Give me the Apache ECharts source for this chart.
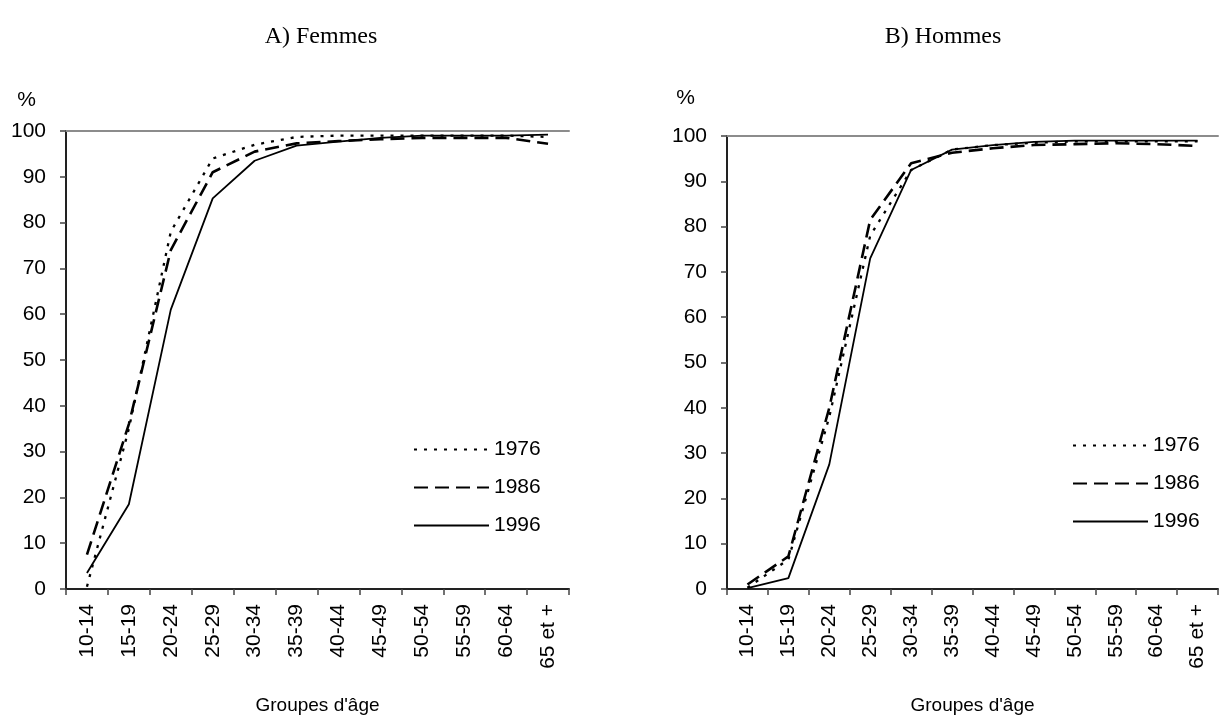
<!DOCTYPE html>
<html>
<head>
<meta charset="utf-8">
<script src="https://cdn.jsdelivr.net/npm/echarts@6/dist/echarts.min.js"></script>
<style>html,body{margin:0;padding:0;background:#fff;}#c{width:1219px;height:720px;}</style>
</head>
<body>
<div id="c"></div>
<script>
const categories = ['10-14','15-19','20-24','25-29','30-34','35-39','40-44','45-49','50-54','55-59','60-64','65 et +'];
const yTicks = [0,10,20,30,40,50,60,70,80,90,100];
const years = ['1976','1986','1996'];
// A) Femmes
const femmes1976 = [0.5, 35, 78, 94, 97, 98.7, 99, 99, 99, 99, 99, 98.7];
const femmes1986 = [7.5, 36, 74, 91, 95.5, 97.3, 97.8, 98.2, 98.5, 98.5, 98.5, 97.2];
const femmes1996 = [3.5, 18.5, 61, 85.3, 93.5, 96.8, 97.7, 98.5, 99, 99, 99, 99.2];
// B) Hommes
const hommes1976 = [0.3, 6.5, 38, 78, 92.5, 97, 98, 98.5, 98.8, 98.8, 98.8, 98.8];
const hommes1986 = [1, 7.2, 40, 81.5, 94, 96.3, 97.3, 98, 98.2, 98.4, 98.2, 97.8];
const hommes1996 = [0.2, 2.4, 27.5, 73, 92.5, 97, 98, 98.7, 99, 99, 99, 99];

const sans = 'Liberation Sans, Arial, sans-serif';
const serif = 'Liberation Serif, Times New Roman, serif';
const styles = [
  {type: [3, 7], width: 2.3},
  {type: [14, 7], width: 2.6},
  {type: 'solid', width: 1.8}
];

function xBottom(gi) {
  return {
    type: 'category', gridIndex: gi, data: categories, position: 'bottom', boundaryGap: true,
    axisLine: {lineStyle: {color: '#222', width: 2}},
    axisTick: {show: true, length: 6, lineStyle: {color: '#444', width: 1.5}},
    axisLabel: {rotate: 90, fontSize: 21, color: '#000', fontFamily: sans, margin: 15},
    name: "Groupes d'âge", nameLocation: 'middle', nameGap: 107,
    nameTextStyle: {fontSize: 19, color: '#000', fontFamily: sans},
    splitLine: {show: false}
  };
}
function xTop(gi) {
  return {
    type: 'category', gridIndex: gi, data: categories, position: 'top',
    axisLine: {lineStyle: {color: '#8c8c8c', width: 2}},
    axisTick: {show: false}, axisLabel: {show: false}, splitLine: {show: false}
  };
}
function yAx(gi, pad, gap) {
  return {
    type: 'value', gridIndex: gi, min: yTicks[0], max: yTicks[yTicks.length-1], interval: 10,
    axisLine: {show: true, lineStyle: {color: '#222', width: 2}},
    axisTick: {show: true, inside: false, length: 6, lineStyle: {color: '#444', width: 1.5}},
    axisLabel: {fontSize: 21, color: '#000', fontFamily: sans, margin: 20},
    splitLine: {show: false},
    name: '%', nameLocation: 'end', nameGap: gap,
    nameTextStyle: {fontSize: 21, color: '#000', fontFamily: sans, align: 'right', padding: [0, pad, 0, 0]}
  };
}
function mk(name, data, gi, i) {
  return {
    name: name, type: 'line', xAxisIndex: gi, yAxisIndex: gi, data: data,
    symbol: 'none', showSymbol: false, smooth: false,
    lineStyle: {color: '#000', width: styles[i].width, type: styles[i].type},
    itemStyle: {color: '#000'}, silent: true
  };
}
function legend(left, top) {
  return {
    orient: 'vertical', left: left, top: top, itemWidth: 75, itemHeight: 20, itemGap: 17,
    itemStyle: {opacity: 0},
    textStyle: {fontSize: 21, color: '#000', fontFamily: sans},
    data: years.slice(),
    selectedMode: false
  };
}

const chart = echarts.init(document.getElementById('c'), null, {renderer: 'canvas'});
chart.setOption({
  animation: false,
  backgroundColor: '#fff',
  title: [
    {text: 'A) Femmes', left: 316, top: 20, textAlign: 'center', textStyle: {fontFamily: serif, fontSize: 24, fontWeight: 'normal', color: '#000'}},
    {text: 'B) Hommes', left: 938, top: 20, textAlign: 'center', textStyle: {fontFamily: serif, fontSize: 24, fontWeight: 'normal', color: '#000'}}
  ],
  grid: [
    {left: 66, right: 650, top: 131, bottom: 127, containLabel: false},
    {left: 727, right: 1, top: 136, bottom: 124, containLabel: false}
  ],
  xAxis: [xBottom(0), xBottom(1), xTop(0), xTop(1)],
  yAxis: [yAx(0, 30, 20), yAx(1, 32, 27)],
  legend: [legend(408, 434), legend(1067, 430)],
  series: [
    mk('1976', femmes1976, 0, 0), mk('1986', femmes1986, 0, 1), mk('1996', femmes1996, 0, 2),
    mk('1976', hommes1976, 1, 0), mk('1986', hommes1986, 1, 1), mk('1996', hommes1996, 1, 2)
  ]
});
</script>
</body>
</html>
